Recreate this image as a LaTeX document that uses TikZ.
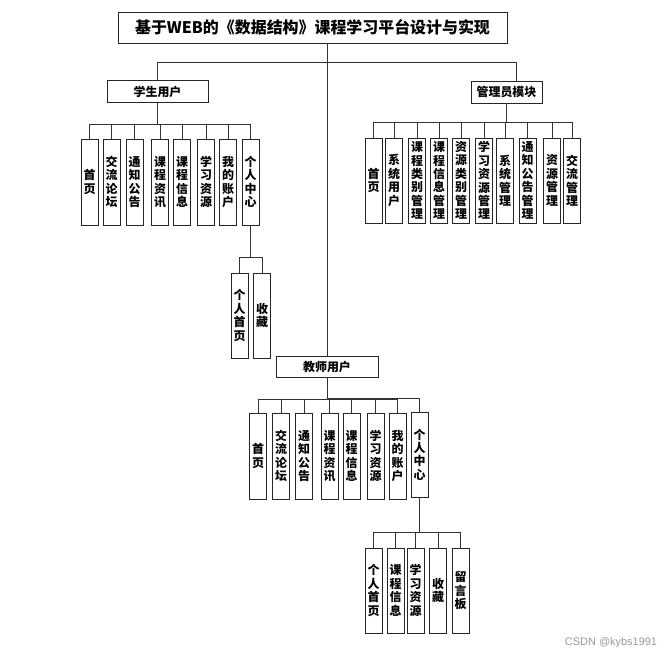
\documentclass[tikz,border=0pt]{standalone}
\usepackage{fontspec}
\setmainfont{Noto Sans CJK SC}
\newfontfamily\wmfont{Liberation Sans}
\begin{document}
\begin{tikzpicture}[x=1bp, y=-1bp, line width=0.8bp, draw=black!80,
  box/.style={draw=black!85, rectangle, inner sep=0pt, font=\bfseries\fontsize{12}{13.5}\selectfont},
  leaf/.style={box, minimum width=17bp, minimum height=86bp, align=center},
  modbox/.style={box, minimum height=22bp}]
  \useasboundingbox (0,0) rectangle (670,657);

  % Titolo e moduli
  \node[box, minimum width=389bp, minimum height=31bp, font=\bfseries\fontsize{16}{16}\selectfont] (root) at (312.5,27.5) {基于WEB的《数据结构》课程学习平台设计与实现};
  \node[modbox, minimum width=101bp] (stu) at (157.5,91.5) {学生用户};
  \node[modbox, minimum width=71bp] (adm) at (506.5,92) {管理员模块};
  \node[modbox, minimum width=102bp, minimum height=21bp] (tea) at (327,366.5) {教师用户};

  \draw (tea.north) -- (tea.north |- root.south);
  \draw (stu.north) -- ++(0,-18) -| ([xshift=10bp]adm.north);

  % Studente
  \node[leaf] (s1) at (89.5,182) {首\\页};
  \node[leaf] (s2) at (111.5,182) {交\\流\\论\\坛};
  \node[leaf] (s3) at (134.5,182) {通\\知\\公\\告};
  \node[leaf] (s4) at (160,182) {课\\程\\资\\讯};
  \node[leaf] (s5) at (182,182) {课\\程\\信\\息};
  \node[leaf] (s6) at (206,182) {学\\习\\资\\源};
  \node[leaf] (s7) at (228,182) {我\\的\\账\\户};
  \node[leaf] (s8) at (250.5,182) {个\\人\\中\\心};
  \foreach \i in {1,...,8} \draw (s\i.north) -- ++(0,-14) -| (stu.south);

  \node[leaf, minimum height=85bp] (sp1) at (239.5,315.5) {个\\人\\首\\页};
  \node[leaf, minimum height=85bp] (sp2) at (262,315.5) {收\\藏};
  \foreach \i in {1,2} \draw (sp\i.north) -- ++(0,-15) -| (s8.south);

  % Amministratore
  \node[leaf, minimum height=85bp] (a1) at (373.5,180.5) {首\\页};
  \node[leaf, minimum height=85bp] (a2) at (394,180.5) {系\\统\\用\\户};
  \node[leaf, minimum height=85bp] (a3) at (417,180.5) {课\\程\\类\\别\\管\\理};
  \node[leaf, minimum height=85bp] (a4) at (439,180.5) {课\\程\\信\\息\\管\\理};
  \node[leaf, minimum height=85bp] (a5) at (461,180.5) {资\\源\\类\\别\\管\\理};
  \node[leaf, minimum height=85bp] (a6) at (484,180.5) {学\\习\\资\\源\\管\\理};
  \node[leaf, minimum height=85bp] (a7) at (505,180.5) {系\\统\\管\\理};
  \node[leaf, minimum height=85bp] (a8) at (527.5,180.5) {通\\知\\公\\告\\管\\理};
  \node[leaf, minimum height=85bp] (a9) at (552,180.5) {资\\源\\管\\理};
  \node[leaf, minimum height=85bp] (a10) at (572,180.5) {交\\流\\管\\理};
  \foreach \i in {1,...,10} \draw (a\i.north) -- ++(0,-15) -| (adm.south);

  % Docente
  \node[leaf] (t1) at (258,456) {首\\页};
  \node[leaf] (t2) at (281,456) {交\\流\\论\\坛};
  \node[leaf] (t3) at (304,456) {通\\知\\公\\告};
  \node[leaf] (t4) at (329.5,456) {课\\程\\资\\讯};
  \node[leaf] (t5) at (351.5,456) {课\\程\\信\\息};
  \node[leaf] (t6) at (375.5,456) {学\\习\\资\\源};
  \node[leaf] (t7) at (397.5,456) {我\\的\\账\\户};
  \node[leaf, minimum height=85bp] (t8) at (419.5,454.5) {个\\人\\中\\心};
  \foreach \i in {1,...,8} \draw (t\i.north) -- ++(0,-13) -| (tea.south);

  \node[leaf, minimum height=85bp] (tp1) at (373.5,590.5) {个\\人\\首\\页};
  \node[leaf, minimum height=85bp] (tp2) at (395.5,590.5) {课\\程\\信\\息};
  \node[leaf, minimum height=85bp] (tp3) at (415.5,590.5) {学\\习\\资\\源};
  \node[leaf, minimum height=85bp] (tp4) at (438,590.5) {收\\藏};
  \node[leaf, minimum height=85bp] (tp5) at (460.5,590.5) {留\\言\\板};
  \foreach \i in {1,...,5} \draw (tp\i.north) -- ++(0,-15) -| (t8.south);

  \node[font=\wmfont\fontsize{11}{11}\selectfont, text=black!40] (wm) at (611,643) {CSDN @kybs1991};
\end{tikzpicture}
\end{document}
